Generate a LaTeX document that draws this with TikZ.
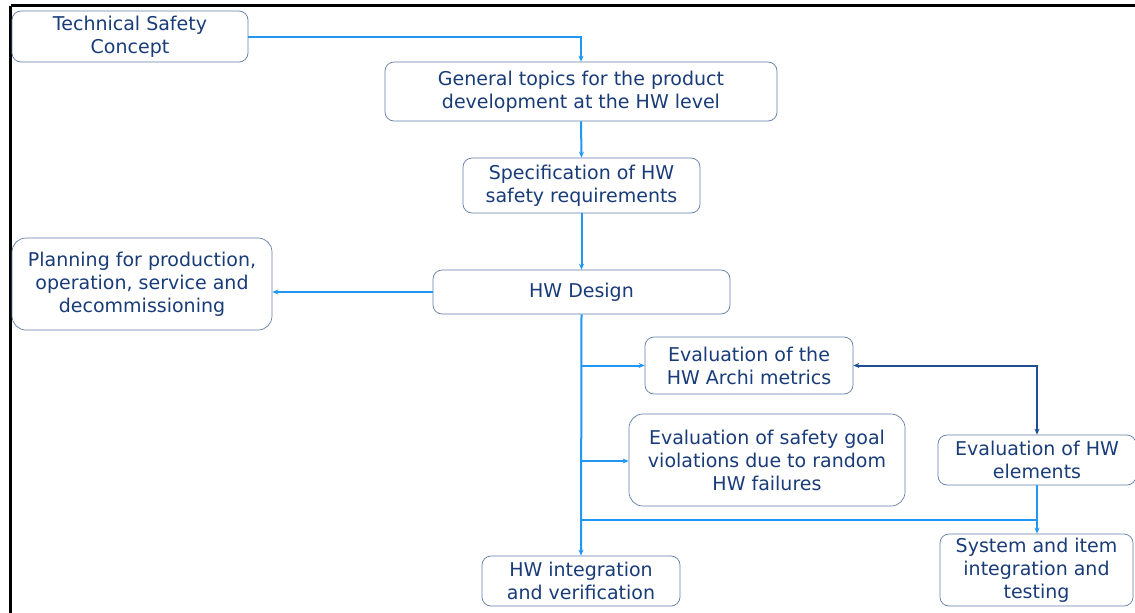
\documentclass[tikz,border=0pt]{standalone}
\usepackage{fontspec}
\setmainfont{DejaVu Sans}
\usetikzlibrary{arrows.meta}
\definecolor{flow}{RGB}{33,150,243}
\definecolor{loopc}{RGB}{31,78,150}
\definecolor{boxc}{RGB}{95,125,170}
\definecolor{txt}{RGB}{25,60,120}
\tikzset{
  stepbox/.style={draw=boxc, line width=0.7pt, rounded corners=9pt, fill=white,
    text=txt, align=center, font=\fontsize{19}{23}\selectfont,
    inner sep=0pt},
  flowline/.style={draw=flow, line width=2pt},
  flowarrow/.style={flowline, -{Stealth[length=6pt,width=5pt]}},
  looparrow/.style={draw=loopc, line width=2pt,
    {Stealth[length=6pt,width=5pt]}-{Stealth[length=6pt,width=5pt]}},
}
\begin{document}
\begin{tikzpicture}[x=1pt,y=-1pt]
\useasboundingbox (0,0) rectangle (1135,613);
\fill[white] (0,0) rectangle (1135,613);
% frame edges
\draw[black, line width=2.5pt] (10.5,5.5) -- (1135,5.5);
\draw[black, line width=2.5pt] (10.5,5.5) -- (10.5,613);

% boxes
\node[stepbox, minimum width=236pt, minimum height=51pt] (tsc) at (130,36.5)
  {Technical Safety\\Concept};
\node[stepbox, minimum width=392pt, minimum height=59pt] (gen) at (581,91.5)
  {General topics for the product\\development at the HW level};
\node[stepbox, minimum width=237pt, minimum height=55pt] (spec) at (581.5,185.5)
  {Specification of HW\\safety requirements};
\node[stepbox, minimum width=297pt, minimum height=44pt] (hwd) at (581.5,292)
  {HW Design};
\node[stepbox, rounded corners=14pt, minimum width=260pt, minimum height=92pt] (plan) at (142,284)
  {Planning for production,\\operation, service and\\decommissioning};
\node[stepbox, minimum width=208pt, minimum height=57pt] (arch) at (749,365.5)
  {Evaluation of the\\HW Archi metrics};
\node[stepbox, rounded corners=14pt, minimum width=276pt, minimum height=92pt] (sgv) at (767,460)
  {Evaluation of safety goal\\violations due to random\\HW failures};
\node[stepbox, minimum width=198pt, minimum height=50pt] (elem) at (1037,460)
  {Evaluation of HW\\elements};
\node[stepbox, minimum width=193pt, minimum height=72pt] (sys) at (1036.5,570)
  {System and item\\integration and\\testing};
\node[stepbox, minimum width=198pt, minimum height=50pt] (integ) at (581,581)
  {HW integration\\and verification};

% main flow
\draw[flowarrow] (tsc.east) -| (gen.north);
\draw[flowarrow] (gen.south) -- (spec.north);
\draw[flowarrow] (spec.south) -- (hwd.north);
\draw[flowarrow] (hwd.west) -- (hwd.west -| plan.east);
\draw[flowarrow] (hwd.south) -- (integ.north);

% branches off the trunk
\coordinate (b1) at (581,365.5);
\coordinate (b2) at (581,461);
\coordinate (b3) at (581,520);
\draw[flowarrow] (b1) -- (b1 -| arch.west);
\draw[flowarrow] (b2) -- (b2 -| sgv.west);
\draw[flowline] (b3) -- (b3 -| elem.south);
\draw[flowarrow] (elem.south) -- (elem.south |- sys.north);

% exchange between architectural metrics and element evaluation
\draw[looparrow] (arch.east) -| (elem.north);
\end{tikzpicture}
\end{document}
